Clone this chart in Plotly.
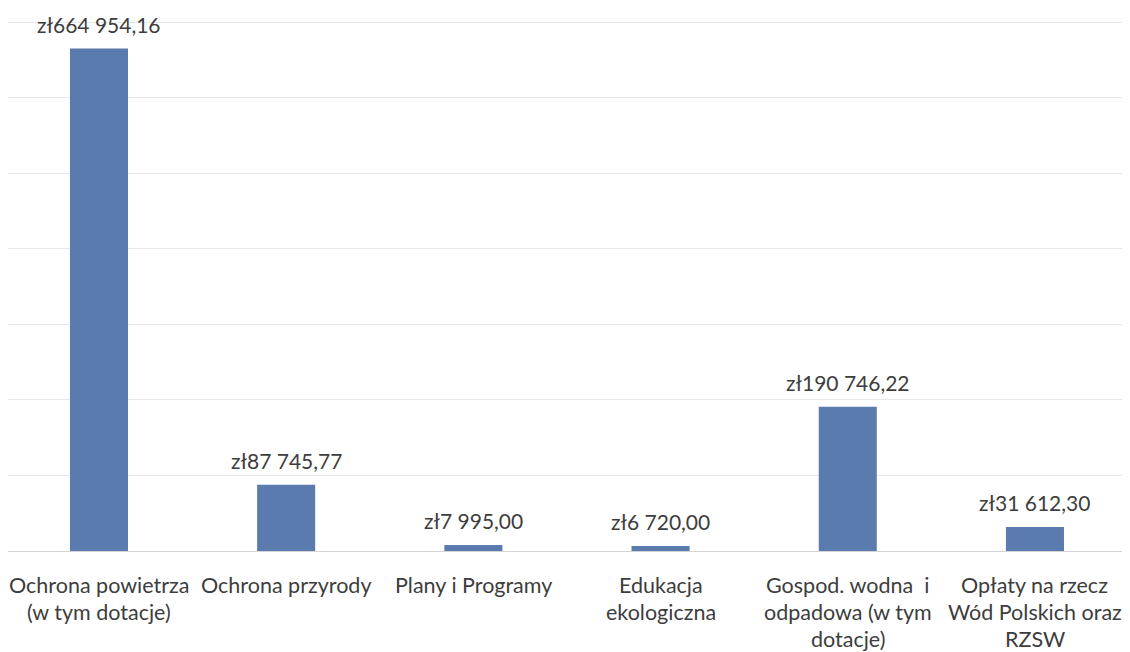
import plotly.graph_objects as go

categories = ["Ochrona powietrza\n(w tym dotacje)", "Ochrona przyrody", "Plany i Programy",
              "Edukacja\nekologiczna", "Gospod. wodna  i\nodpadowa (w tym\ndotacje)",
              "Opłaty na rzecz\nWód Polskich oraz\nRZSW"]
values = [664954.16, 87745.77, 7995.00, 6720.00, 190746.22, 31612.30]
value_labels = ["zł664 954,16", "zł87 745,77", "zł7 995,00", "zł6 720,00", "zł190 746,22", "zł31 612,30"]
y_ticks = [0, 100000, 200000, 300000, 400000, 500000, 600000, 700000]

keys = [f"c{i}" for i in range(len(categories))]
FONT = "Lato"
TXT = "#3d3d3d"

fig = go.Figure()
fig.add_trace(go.Bar(x=keys, y=values, marker=dict(color="#5b7aad", line=dict(width=0)),
                     hoverinfo="skip"))

ann = []
for k, v, lab in zip(keys, values, value_labels):
    ann.append(dict(x=k, y=v, xref="x", yref="y", text=lab, showarrow=False,
                    yanchor="bottom", yshift=10, font=dict(family=FONT, size=21, color=TXT)))
for k, cat in zip(keys, categories):
    for j, line in enumerate(cat.split("\n")):
        ann.append(dict(x=k, y=0, xref="x", yref="y", text=line, showarrow=False,
                        yanchor="middle", yshift=-34 - 27 * j,
                        font=dict(family=FONT, size=21.5, color=TXT)))

fig.update_layout(
    width=1122, height=644,
    margin=dict(l=0, r=2, t=11, b=101),
    paper_bgcolor="white", plot_bgcolor="white",
    bargap=0.69, showlegend=False,
    annotations=ann,
    xaxis=dict(range=[-0.486, 5.497], showticklabels=False, showgrid=False,
               zeroline=False, showline=False, ticks=""),
    yaxis=dict(range=[0, 704000], tickvals=y_ticks, showticklabels=False,
               showgrid=True, gridcolor="#e8e8e8", gridwidth=1,
               zeroline=True, zerolinecolor="#d4d4d4", zerolinewidth=1, showline=False),
)
fig.write_html("out.html")
